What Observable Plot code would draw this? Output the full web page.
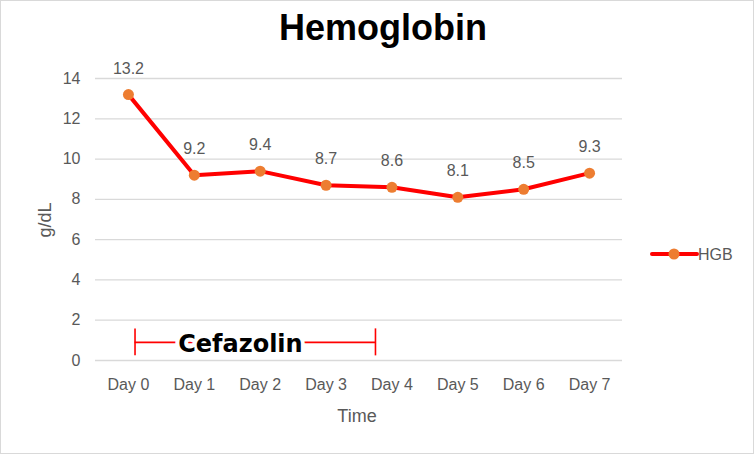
<!DOCTYPE html>
<html>
<head>
<meta charset="utf-8">
<script src="https://cdn.jsdelivr.net/npm/d3@7"></script>
<script src="https://cdn.jsdelivr.net/npm/@observablehq/plot@0.6"></script>
<style>
  html, body { margin: 0; padding: 0; background: #fff; }
  #chart { width: 754px; height: 454px; box-sizing: border-box; border: 1px solid #d9d9d9; overflow: hidden; }
  #chart svg { display: block; }
</style>
</head>
<body>
<div id="chart"></div>
<script>
// Hemoglobin readings per day
const days = ["Day 0", "Day 1", "Day 2", "Day 3", "Day 4", "Day 5", "Day 6", "Day 7"];
const hgb = [13.2, 9.2, 9.4, 8.7, 8.6, 8.1, 8.5, 9.3];
const yTicks = [0, 2, 4, 6, 8, 10, 12, 14];

// Cefazolin course, in day units along the time axis
const cefazolinStart = 0.1;
const cefazolinEnd = 3.75;
const cefazolinLabelX = 1.7;
const cefazolinLevel = 0.9;
const cefazolinTick = 0.67;

const data = days.map((day, i) => ({ i, day, hgb: hgb[i] }));

const gray = "#595959";
const font = "Liberation Sans, Arial, sans-serif";

const chart = Plot.plot({
  width: 752,
  height: 452,
  marginLeft: 94,
  marginRight: 131,
  marginTop: 77,
  marginBottom: 93,
  style: { fontFamily: font, fontSize: "16px", color: gray, background: "#fff" },
  x: {
    domain: [-0.5, 7.5],
    ticks: days.map((d, i) => i),
    tickFormat: i => days[i],
    tickSize: 0,
    tickPadding: 18,
    label: null
  },
  y: {
    domain: [0, 14],
    ticks: yTicks,
    tickSize: 0,
    tickPadding: 15,
    label: null
  },
  marks: [
    Plot.ruleY(yTicks, { stroke: "#d9d9d9", strokeWidth: 1.3 }),
    // Cefazolin bracket
    Plot.ruleY([cefazolinLevel], { x1: cefazolinStart, x2: cefazolinEnd, stroke: "#ff0000", strokeWidth: 1.6 }),
    Plot.ruleX([cefazolinStart, cefazolinEnd], {
      y1: cefazolinLevel - cefazolinTick, y2: cefazolinLevel + cefazolinTick,
      stroke: "#ff0000", strokeWidth: 1.6
    }),
    Plot.text(["Cefazolin"], {
      x: cefazolinLabelX, y: cefazolinLevel, text: d => d, dy: 2,
      fontFamily: "DejaVu Sans", fontWeight: "bold", fontSize: 24,
      fill: "#000", stroke: "#fff", strokeWidth: 8, paintOrder: "stroke"
    }),
    // HGB series
    Plot.line(data, { x: "i", y: "hgb", stroke: "#ff0000", strokeWidth: 4, strokeLinejoin: "round" }),
    Plot.dot(data, { x: "i", y: "hgb", r: 5.5, fill: "#ed7d31", stroke: "none" }),
    Plot.text(data, { x: "i", y: "hgb", text: d => d.hgb.toFixed(1), dy: -26, fill: gray, fontSize: 16 })
  ]
});

document.getElementById("chart").appendChild(chart);

const svg = d3.select(chart);

// Title
svg.append("text")
  .attr("x", 382).attr("y", 39)
  .attr("text-anchor", "middle")
  .attr("font-family", font).attr("font-weight", "bold").attr("font-size", 36)
  .attr("fill", "#000")
  .text("Hemoglobin");

// Axis titles
svg.append("text")
  .attr("transform", "translate(50,219) rotate(-90)")
  .attr("text-anchor", "middle")
  .attr("font-family", font).attr("font-size", 18).attr("fill", gray)
  .text("g/dL");

svg.append("text")
  .attr("x", 356).attr("y", 421)
  .attr("text-anchor", "middle")
  .attr("font-family", font).attr("font-size", 18).attr("fill", gray)
  .text("Time");

// Legend
const lg = svg.append("g");
lg.append("line")
  .attr("x1", 651).attr("x2", 696).attr("y1", 253).attr("y2", 253)
  .attr("stroke", "#ff0000").attr("stroke-width", 4).attr("stroke-linecap", "round");
lg.append("circle")
  .attr("cx", 673).attr("cy", 253).attr("r", 5.5).attr("fill", "#ed7d31");
lg.append("text")
  .attr("x", 697).attr("y", 259)
  .attr("text-anchor", "start")
  .attr("font-family", font).attr("font-size", 16).attr("fill", gray)
  .text("HGB");
</script>
</body>
</html>
